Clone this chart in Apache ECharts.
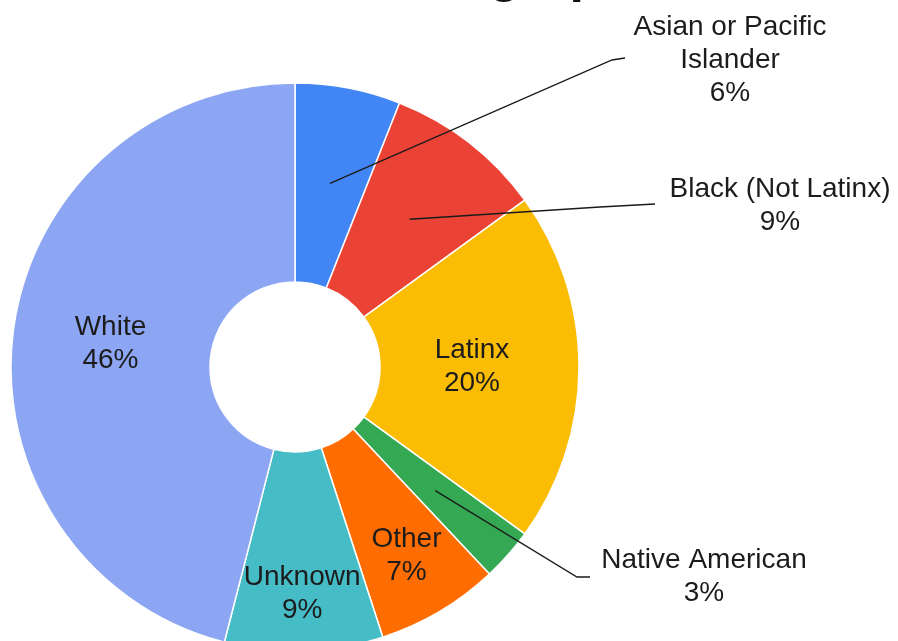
<!DOCTYPE html>
<html>
<head>
<meta charset="utf-8">
<script src="https://cdn.jsdelivr.net/npm/echarts@6/dist/echarts.min.js"></script>
<style>
  html, body { margin: 0; padding: 0; background: #ffffff; }
  #chart { width: 898px; height: 641px; }
</style>
</head>
<body>
<div id="chart"></div>
<script>
// Participant groups, clockwise from 12 o'clock, and their share in percent
const categories = ['Asian or Pacific\nIslander', 'Black (Not Latinx)', 'Latinx', 'Native American', 'Other', 'Unknown', 'White'];
const shares = [6, 9, 20, 3, 7, 9, 46];
const sliceColors = ['#4285F4', '#EA4335', '#FBBC04', '#34A853', '#FF6D01', '#46BDC6', '#8CA6F4'];

const CX = 295, CY = 367, R_IN = 85, R_OUT = 284;

// Label placement: inside labels sit on the slice's mid-angle at a given radius,
// outside labels get a leader line that starts inside the slice.
const labelPlacement = {
  0: { outside: true, at: [730, 60], elbow: [612, 60], end: [625, 58] },
  1: { outside: true, at: [780, 206], elbow: [600, 207], end: [655, 204] },
  2: { r: 177 },
  3: { outside: true, at: [704, 577], elbow: [577, 577], end: [590, 577] },
  4: { r: 219 },
  5: { r: 227 },
  6: { r: 186 }
};

const total = shares.reduce((a, b) => a + b, 0);
const midAngles = [];
let acc = 0;
shares.forEach(v => { midAngles.push((acc + v / 2) / total * Math.PI * 2); acc += v; });
const polar = (a, r) => [CX + r * Math.sin(a), CY - r * Math.cos(a)];

const labelFont = {
  fontFamily: '"Liberation Sans", Arial, sans-serif',
  fontSize: 28, lineHeight: 33, color: '#1c1c1c'
};
const formatLabel = p => p.name + '\n' + p.value + '%';

const placeLabel = params => {
  const i = params.dataIndex;
  const cfg = labelPlacement[i];
  if (cfg.outside) {
    return {
      x: cfg.at[0], y: cfg.at[1], align: 'center', verticalAlign: 'middle',
      labelLinePoints: [polar(midAngles[i], 187), cfg.elbow, cfg.end]
    };
  }
  const p = polar(midAngles[i], cfg.r);
  return { x: p[0], y: p[1], align: 'center', verticalAlign: 'middle' };
};

const chart = echarts.init(document.getElementById('chart'), null, { renderer: 'canvas' });

chart.setOption({
  animation: false,
  backgroundColor: '#ffffff',
  graphic: [{
    type: 'text',
    x: 344, y: -49,
    style: { text: 'Demographics', font: 'bold 52px "Liberation Sans", Arial, sans-serif', fill: '#111111', verticalAlign: 'top' }
  }],
  series: [
    // the donut itself, with the labels that sit inside their slices
    {
      type: 'pie',
      center: [CX, CY],
      radius: [R_IN, R_OUT],
      startAngle: 90,
      clockwise: true,
      avoidLabelOverlap: false,
      silent: true,
      itemStyle: { borderColor: '#ffffff', borderWidth: 1.5 },
      label: Object.assign({ show: true, position: 'inside', align: 'center', formatter: formatLabel }, labelFont),
      labelLine: { show: false },
      labelLayout: placeLabel,
      data: categories.map((name, i) => ({
        name: name,
        value: shares[i],
        itemStyle: { color: sliceColors[i] },
        label: { show: !labelPlacement[i].outside }
      }))
    },
    // transparent copy on top carrying the outside labels and their leader lines
    {
      type: 'pie',
      z: 5,
      center: [CX, CY],
      radius: [R_IN, R_OUT],
      startAngle: 90,
      clockwise: true,
      avoidLabelOverlap: false,
      silent: true,
      itemStyle: { color: 'rgba(0,0,0,0)', borderWidth: 0 },
      label: Object.assign({ show: true, position: 'outside', align: 'center', formatter: formatLabel }, labelFont),
      labelLine: { show: true, lineStyle: { color: '#1a1a1a', width: 1.3 } },
      labelLayout: placeLabel,
      data: categories.map((name, i) => ({
        name: name,
        value: shares[i],
        label: { show: !!labelPlacement[i].outside },
        labelLine: { show: !!labelPlacement[i].outside }
      }))
    }
  ]
});
</script>
</body>
</html>
